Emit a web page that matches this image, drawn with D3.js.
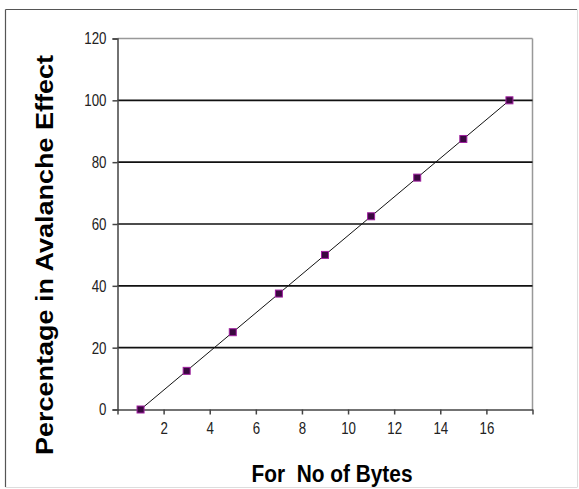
<!DOCTYPE html>
<html><head><meta charset="utf-8">
<script src="https://cdn.jsdelivr.net/npm/d3@7"></script>
<style>
html,body{margin:0;padding:0;background:#fff;}
svg{display:block;}
</style></head>
<body>
<svg id="chart" width="579" height="489"></svg>
<script>
const bytes = [1, 3, 5, 7, 9, 11, 13, 15, 17];
const avalanche = [0, 12.5, 25, 37.5, 50, 62.5, 75, 87.5, 100];
const xTicks = [0, 2, 4, 6, 8, 10, 12, 14, 16, 18];
const xTickLabels = ["", "2", "4", "6", "8", "10", "12", "14", "16", ""];
const yTicks = [0, 20, 40, 60, 80, 100, 120];
const xTitle = "For  No of Bytes";
const yTitle = "Percentage in Avalanche Effect";

const svg = d3.select("#chart");
const L = 117.5, R = 532.5, T = 38.5, B = 409.5;
const x = d3.scaleLinear().domain([0, 18]).range([L, R]);
const y = d3.scaleLinear().domain([0, 120]).range([B, T]);
const FONT = "'Liberation Sans',Arial,sans-serif";

// outer frame
svg.append("line").attr("x1", 5.5).attr("y1", 9.5).attr("x2", 577).attr("y2", 9.5).attr("stroke", "#555").attr("stroke-width", 1.2);
svg.append("line").attr("x1", 5.5).attr("y1", 9.5).attr("x2", 5.5).attr("y2", 487).attr("stroke", "#555").attr("stroke-width", 1.2);
svg.append("line").attr("x1", 577.5).attr("y1", 9.5).attr("x2", 577.5).attr("y2", 487).attr("stroke", "#ddd").attr("stroke-width", 1);
svg.append("line").attr("x1", 5.5).attr("y1", 487.5).attr("x2", 577.5).attr("y2", 487.5).attr("stroke", "#ddd").attr("stroke-width", 1);

// plot border top/right
svg.append("line").attr("x1", L).attr("x2", R).attr("y1", y(120)).attr("y2", y(120)).attr("stroke", "#999").attr("stroke-width", 1.5);
svg.append("line").attr("x1", R).attr("x2", R).attr("y1", T).attr("y2", B).attr("stroke", "#999").attr("stroke-width", 1.5);

// gridlines
svg.append("g").selectAll("line").data(yTicks.filter(d => d > 0 && d < 120)).join("line")
  .attr("x1", L).attr("x2", R).attr("y1", d => y(d)).attr("y2", d => y(d))
  .attr("stroke", "#111").attr("stroke-width", 1.6);

function narrow(sel) {
  sel.attr("font-family", FONT).attr("font-size", 17).attr("fill", "#222")
    .each(function () {
      const t = d3.select(this).text();
      if (t.length) d3.select(this).attr("textLength", 7.4 * t.length).attr("lengthAdjust", "spacingAndGlyphs");
    });
}

// y axis
const yAxis = d3.axisLeft(y).tickValues(yTicks).tickSize(5).tickPadding(6).tickFormat(d3.format("d"));
const gy = svg.append("g").attr("transform", `translate(${L},0)`).call(yAxis);
gy.select(".domain").attr("stroke", "#444").attr("stroke-width", 1.5);
gy.selectAll(".tick line").attr("stroke", "#444").attr("stroke-width", 1.5);
narrow(gy.selectAll("text"));

// x axis
const xAxis = d3.axisBottom(x).tickValues(xTicks).tickSize(5).tickSizeOuter(0).tickPadding(7).tickFormat((d, i) => xTickLabels[i]);
const gx = svg.append("g").attr("transform", `translate(0,${B})`).call(xAxis);
gx.select(".domain").attr("stroke", "#444").attr("stroke-width", 1.5);
gx.selectAll(".tick line").attr("stroke", "#444").attr("stroke-width", 1.5);
narrow(gx.selectAll("text"));

// line
const line = d3.line().x((d, i) => x(bytes[i])).y(d => y(d));
svg.append("path").datum(avalanche).attr("d", line).attr("fill", "none").attr("stroke", "#111").attr("stroke-width", 1);

// markers
svg.append("g").selectAll("rect").data(avalanche).join("rect")
  .attr("x", (d, i) => x(bytes[i]) - 3.5).attr("y", d => y(d) - 3.5)
  .attr("width", 7).attr("height", 7)
  .attr("fill", "#3a0840").attr("stroke", "#a020a0").attr("stroke-width", 1);

// titles
svg.append("text").attr("x", 332).attr("y", 481.5).attr("text-anchor", "middle")
  .style("white-space", "pre")
  .attr("font-family", FONT).attr("font-weight", "bold")
  .attr("font-size", 23).attr("fill", "#000")
  .attr("textLength", 161).attr("lengthAdjust", "spacingAndGlyphs").text(xTitle);
svg.append("text").attr("transform", "translate(53,255) rotate(-90)").attr("text-anchor", "middle")
  .attr("font-family", FONT).attr("font-weight", "bold")
  .attr("font-size", 23.5).attr("fill", "#000")
  .attr("textLength", 400).attr("lengthAdjust", "spacingAndGlyphs").text(yTitle);
</script>
</body></html>
